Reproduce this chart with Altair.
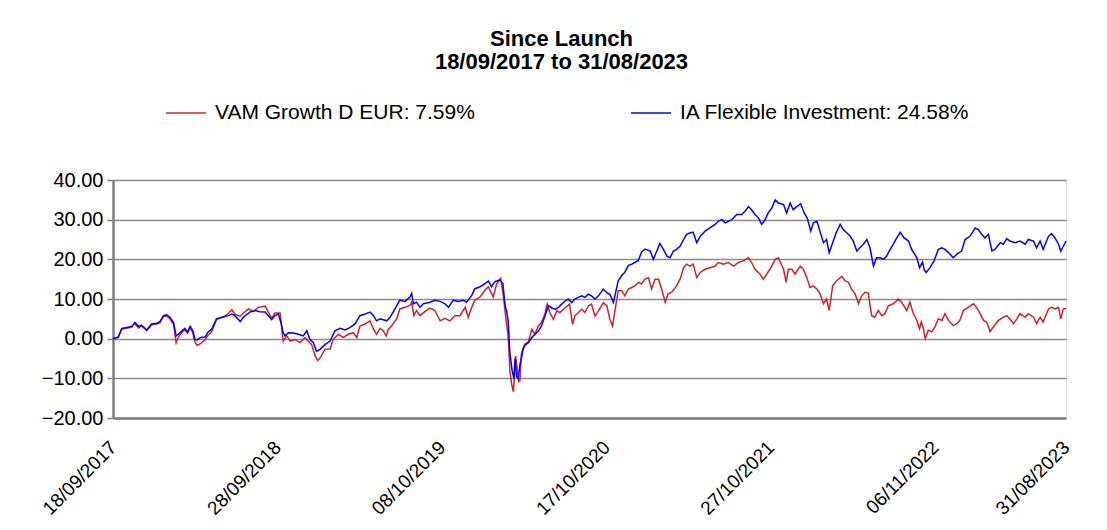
import altair as alt
import pandas as pd

LAUNCH = "2017-09-18"

# Days since launch and cumulative % return
vam_days = [0, 12, 20, 31, 43, 50, 58, 65, 77, 88, 100, 107, 115, 122, 130, 138, 144, 149, 157, 164, 170, 176, 182, 187, 192, 200, 210, 217, 225, 236, 248, 255, 263, 271, 278, 290, 297,
            309, 320, 331, 347, 354, 362, 369, 381, 388, 396, 404, 415, 426, 438, 445, 453, 461, 467, 474, 483, 495, 502, 514, 525, 537, 548, 556, 563, 575, 586, 594, 601, 609,
            616, 623, 628, 635, 647, 654, 666, 677, 681, 686, 692, 700, 711, 723, 734, 746, 757, 768, 780, 791, 803, 810, 818, 825, 837, 848, 856, 867, 875, 884, 890, 896, 901,
            905, 909, 913, 916, 918, 921, 925, 928, 931, 935,
            939, 947, 955, 962, 970, 977, 985, 990, 996, 1004, 1012, 1019, 1031, 1041, 1048, 1053, 1061, 1069, 1076, 1084, 1091, 1099, 1107, 1118, 1126, 1133, 1139, 1145, 1152, 1160,
            1167, 1175, 1183, 1190, 1198, 1205, 1213, 1221, 1228, 1236, 1244, 1251, 1259, 1266, 1274, 1285, 1293, 1301, 1308, 1316, 1323, 1331, 1339, 1350, 1361, 1373, 1380, 1392,
            1403, 1415, 1426, 1437, 1449, 1456, 1464, 1475, 1483, 1491, 1502, 1510, 1517, 1529, 1535, 1540, 1548, 1555, 1567, 1574, 1582, 1589, 1597, 1605, 1612, 1620, 1627, 1633,
            1641, 1650, 1662, 1669, 1677, 1684, 1692, 1700, 1707, 1715, 1722, 1730, 1737, 1745, 1753, 1760, 1768, 1779, 1791, 1798, 1810, 1817, 1825, 1833, 1839, 1843, 1848, 1852,
            1859, 1867, 1874, 1882, 1890, 1897, 1905, 1916, 1924, 1931, 1939, 1950, 1962, 1969, 1977, 1985, 1992, 2000, 2007, 2019, 2030, 2038, 2045, 2053, 2061, 2068, 2080, 2087,
            2099, 2106, 2114, 2121, 2133, 2140, 2148, 2156, 2161, 2167, 2173]
vam_values = [0.0, 0.5, 2.4, 2.6, 2.9, 3.8, 2.7, 3.2, 2.0, 3.5, 3.7, 4.0, 5.6, 5.8, 5.0, 3.6, -1.0, 0.4, 1.6, 2.2, 1.4, 2.8, 1.5, -0.9, -1.7, -1.2, -0.3, 0.9, 1.8, 4.8, 5.3, 5.7, 6.4, 7.3, 6.2, 5.6, 6.4,
              7.5, 6.8, 7.9, 8.2, 6.7, 5.1, 6.5, 6.5, -0.6, 0.7, -0.6, -0.2, -1.0, 0.3, -0.6, -1.5, -4.4, -5.5, -4.6, -2.7, -2.6, -0.2, 1.1, 0.3, 1.1, 1.5, 0.3, 3.2, 3.7, 4.5, 2.4, 1.1, 2.6,
              2.0, 0.7, 2.4, 3.2, 5.0, 7.5, 7.9, 8.4, 9.2, 5.8, 7.1, 5.8, 6.8, 7.7, 7.1, 4.5, 5.1, 4.5, 5.8, 5.8, 7.9, 5.4, 7.9, 9.7, 10.5, 12.2, 13.1, 10.5, 13.9, 15.2, 10.9, 5.0, 0.7,
              -8.0, -11.5, -13.4, -8.0, -4.4, -7.0, -10.8, -10.5, -4.0, -2.3,
              -1.4, -0.8, 2.4, 1.1, 3.2, 4.1, 6.2, 8.7, 6.6, 4.9, 7.0, 6.6, 7.8, 8.7, 3.6, 5.7, 6.6, 7.4, 6.6, 8.3, 8.7, 5.7, 7.0, 9.1, 8.3, 4.9, 3.2, 7.4, 12.1, 12.1,
              10.8, 12.5, 12.9, 13.3, 14.2, 13.8, 15.0, 15.4, 12.5, 15.0, 15.0, 12.5, 9.2, 11.3, 11.7, 13.3, 15.0, 17.9, 18.8, 18.3, 18.8, 15.4, 16.7, 17.5, 17.9, 18.3, 19.2, 18.8,
              19.2, 18.3, 19.2, 19.6, 20.4, 19.2, 17.5, 16.3, 15.0, 16.3, 18.3, 20.0, 20.4, 17.5, 14.2, 17.5, 17.5, 16.3, 18.3, 17.5, 15.4, 12.9, 13.3, 12.5, 11.3, 8.8, 10.0, 7.1,
              13.3, 14.6, 15.7, 14.6, 14.2, 12.5, 11.3, 8.8, 10.8, 11.7, 11.5, 5.8, 5.4, 7.1, 5.8, 6.3, 8.3, 8.8, 10.0, 9.2, 7.1, 9.2, 6.3, 4.6, 2.5, 4.2, 2.5, 0.0,
              2.1, 1.7, 2.9, 5.0, 4.6, 6.3, 4.6, 3.3, 3.8, 4.6, 7.1, 7.9, 8.8, 7.9, 6.3, 4.6, 4.2, 1.8, 2.9, 4.6, 5.4, 5.8, 5.0, 3.8, 5.0, 6.3, 5.4, 6.3,
              5.4, 3.8, 5.4, 4.2, 7.5, 7.9, 7.5, 7.9, 5.0, 7.5, 7.59]

ia_days = [0, 12, 20, 31, 43, 50, 58, 65, 77, 88, 100, 107, 115, 122, 130, 138, 144, 149, 157, 164, 170, 176, 182, 187, 192, 200, 210, 217, 225, 236, 248, 255, 263, 271, 278, 290, 297,
           312, 324, 335, 347, 354, 362, 369, 377, 383, 388, 392, 400, 411, 423, 434, 442, 449, 457, 464, 472, 483, 495, 506, 518, 529, 540, 552, 563, 575, 586, 594, 601, 609,
           624, 632, 643, 654, 666, 677, 681, 685, 692, 700, 708, 723, 734, 746, 757, 765, 776, 787, 799, 806, 818, 825, 837, 848, 856, 863, 871, 882, 889, 894, 898, 901,
           905, 910, 914, 917, 920, 924, 928, 932, 935,
           939, 947, 955, 962, 970, 977, 985, 993, 1000, 1008, 1015, 1023, 1031, 1038, 1046, 1053, 1061, 1069, 1076, 1084, 1091, 1099, 1107, 1118, 1126, 1133, 1141, 1147, 1152,
           1160, 1167, 1175, 1183, 1190, 1198, 1205, 1213, 1225, 1232, 1240, 1247, 1255, 1263, 1270, 1278, 1285, 1293, 1301, 1308, 1316, 1323, 1331, 1339, 1350, 1361, 1373, 1380,
           1388, 1396, 1403, 1411, 1422, 1434, 1441, 1449, 1456, 1464, 1472, 1479, 1487, 1494, 1502, 1510, 1517, 1529, 1536, 1544, 1551, 1559, 1568, 1576, 1583, 1591, 1597, 1605,
           1612, 1620, 1627, 1633, 1641, 1649, 1658, 1665, 1673, 1681, 1688, 1696, 1703, 1711, 1719, 1726, 1734, 1741, 1749, 1757, 1764, 1772, 1779, 1787, 1795, 1804, 1814, 1821,
           1833, 1839, 1846, 1850, 1854, 1863, 1872, 1882, 1890, 1897, 1905, 1916, 1924, 1935, 1943, 1954, 1966, 1973, 1981, 1988, 1996, 2004, 2011, 2023, 2030, 2038, 2045, 2057,
           2068, 2080, 2087, 2099, 2106, 2114, 2121, 2133, 2140, 2148, 2156, 2161, 2167, 2173]
ia_values = [0.0, 0.3, 2.6, 2.8, 3.1, 4.1, 3.1, 3.4, 2.2, 3.7, 3.9, 4.3, 5.8, 6.0, 5.4, 4.1, 0.7, 1.1, 2.0, 2.6, 1.7, 3.1, 2.0, -0.2, -0.3, 0.3, 0.4, 1.7, 2.4, 5.0, 5.4, 5.6, 5.8, 6.2, 5.8, 4.3, 5.4,
             6.7, 7.1, 6.8, 6.7, 5.8, 4.8, 5.8, 6.2, 4.1, 1.5, 0.7, 1.5, 1.4, 1.1, 0.7, 2.0, -0.2, -1.0, -3.2, -2.7, -1.5, -0.6, 2.0, 2.6, 2.2, 2.8, 3.7, 5.8, 6.2, 6.7, 5.8, 4.5, 5.0,
             4.5, 5.4, 7.5, 9.7, 9.4, 10.5, 11.4, 8.8, 9.2, 7.9, 8.8, 9.2, 9.7, 9.4, 8.8, 7.9, 9.7, 9.4, 9.7, 9.2, 10.9, 12.6, 13.1, 13.9, 14.5, 13.1, 14.4, 14.8, 13.9, 8.4, 6.7, 4.5,
             -3.6, -8.0, -10.0, -5.0, -9.5, -10.0, -6.5, -4.5, -2.7,
             -1.7, -1.0, 0.3, 1.1, 1.9, 3.2, 5.7, 8.3, 7.8, 7.4, 7.8, 8.7, 9.5, 10.0, 9.1, 10.0, 10.4, 10.8, 10.4, 11.2, 10.8, 10.0, 10.8, 12.5, 11.6, 11.2, 9.1, 12.1, 14.6,
             15.9, 16.7, 18.4, 18.8, 19.2, 19.7, 21.8, 22.6, 22.1, 20.0, 22.1, 24.0, 22.5, 20.8, 20.4, 22.1, 22.5, 23.3, 25.0, 26.3, 26.7, 26.8, 24.2, 25.8, 27.1, 27.9, 28.8, 29.6,
             30.0, 29.2, 29.6, 30.0, 31.3, 31.3, 32.1, 33.3, 32.5, 31.3, 30.4, 28.8, 30.0, 31.7, 32.9, 35.0, 34.2, 33.8, 31.7, 34.2, 32.5, 33.3, 34.0, 31.7, 30.4, 27.1, 29.2, 29.6,
             27.1, 24.2, 25.0, 21.7, 24.2, 26.7, 28.8, 27.5, 26.7, 25.8, 24.6, 22.1, 22.9, 23.8, 25.0, 22.9, 18.3, 20.4, 20.4, 20.0, 20.8, 22.5, 23.8, 25.4, 26.8, 25.4, 24.6, 22.5,
             20.4, 17.9, 19.3, 17.3, 16.7, 17.9, 19.6, 22.5, 22.9, 22.5, 21.7, 20.4, 21.3, 22.1, 25.0, 25.8, 27.9, 27.5, 26.3, 25.4, 26.3, 22.1, 22.5, 24.2, 23.8, 25.2, 24.6, 24.2,
             24.6, 23.8, 25.0, 24.6, 22.9, 24.6, 22.5, 25.8, 26.5, 25.4, 23.8, 22.1, 23.3, 24.58]

series_names = ["VAM Growth D EUR: 7.59%", "IA Flexible Investment: 24.58%"]
series_colors = ["#D2202A", "#0000FF"]
tick_dates = ["2017-09-18", "2018-09-28", "2019-10-08", "2020-10-17", "2021-10-27", "2022-11-06", "2023-08-31"]
y_ticks = [-20, -10, 0, 10, 20, 30, 40]
title_lines = ["Since Launch", "18/09/2017 to 31/08/2023"]

start = pd.Timestamp(LAUNCH)
frames = []
for name, days, vals in [(series_names[0], vam_days, vam_values), (series_names[1], ia_days, ia_values)]:
    frames.append(pd.DataFrame({
        "date": [(start + pd.Timedelta(days=d)).strftime("%Y-%m-%dT00:00:00") for d in days],
        "value": vals,
        "series": name,
        "order": list(range(len(days))),
    }))
df = pd.concat(frames, ignore_index=True)


def dt(s):
    y, m, d = (int(p) for p in s.split("-"))
    return alt.DateTime(year=y, month=m, date=d)


FONT = "Liberation Sans"

chart = alt.Chart(df).mark_line(strokeWidth=1.5, interpolate="linear").encode(
    x=alt.X("date:T",
            scale=alt.Scale(domain=[dt(tick_dates[0]), dt(tick_dates[-1])], nice=False),
            axis=alt.Axis(values=[dt(s) for s in tick_dates], format="%d/%m/%Y", title=None,
                          labelAngle=-45, labelAlign="right", labelBaseline="middle",
                          labelPadding=26, ticks=False, grid=False, labelFontSize=19,
                          labelColor="#000000", domainColor="#808080", domainWidth=2.5,
                          labelFont=FONT, labelOverlap=False, labelBound=False)),
    y=alt.Y("value:Q",
            scale=alt.Scale(domain=[-20, 40], nice=False, zero=False),
            axis=alt.Axis(values=y_ticks, format=".2f", title=None, grid=True,
                          gridColor="#8c8c8c", gridWidth=1.5, domainColor="#808080",
                          domainWidth=2.5, tickColor="#808080", tickSize=6, tickWidth=1.5,
                          labelFontSize=20, labelColor="#000000", labelPadding=4, labelFont=FONT)),
    color=alt.Color("series:N",
                    scale=alt.Scale(domain=series_names, range=series_colors),
                    legend=alt.Legend(title=None, orient="none", direction="horizontal",
                                      legendX=52, legendY=-88, symbolType="stroke",
                                      symbolSize=1600, symbolStrokeWidth=1.5, labelFontSize=21,
                                      labelFont=FONT, labelColor="#000000", labelOffset=8,
                                      columnPadding=153, labelLimit=600)),
    detail="series:N",
    order="order:Q",
).properties(
    width=953,
    height=238,
    title=alt.TitleParams(text=title_lines, fontSize=22, font=FONT, fontWeight="bold",
                          anchor="middle", dx=-28, offset=18, lineHeight=23, color="#000000"),
    autosize=alt.AutoSizeParams(type="none"),
    padding={"left": 105, "top": 172, "right": 30, "bottom": 104},
).configure_view(
    stroke="#8c8c8c", strokeWidth=1.5
).configure(background="#ffffff")

chart.save("out.html", embed_options={"renderer": "svg", "actions": False})
